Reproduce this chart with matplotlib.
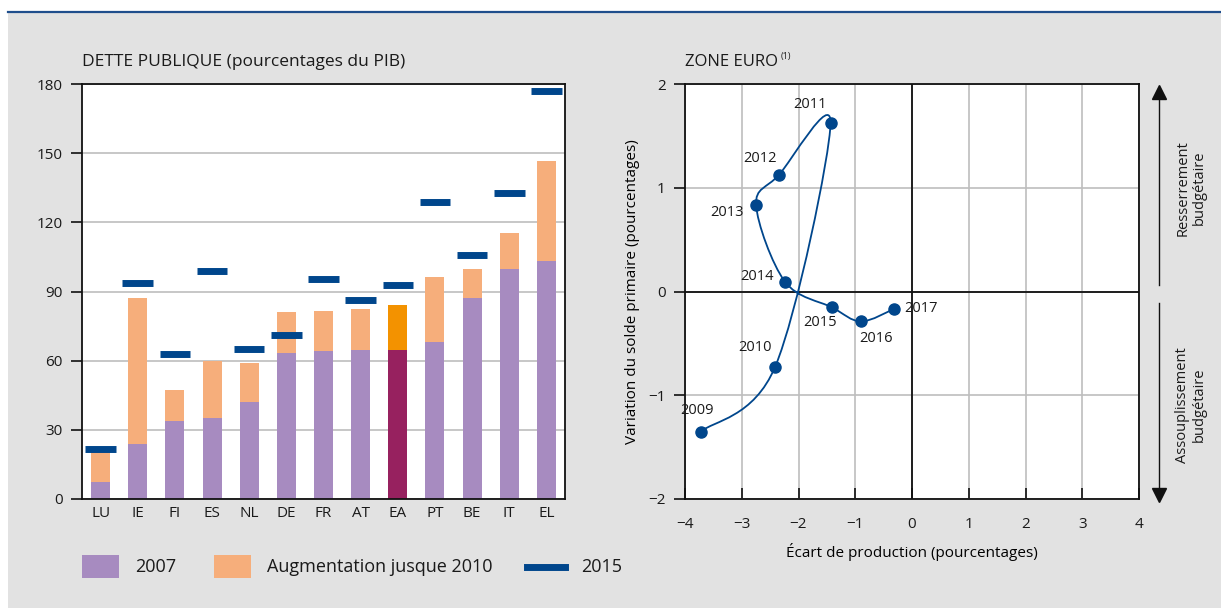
import matplotlib
matplotlib.use("Agg")
import matplotlib.pyplot as plt
from matplotlib.path import Path
from matplotlib.patches import PathPatch, Rectangle
from matplotlib.lines import Line2D
import numpy as np

# --- data -------------------------------------------------------------
countries = ["LU", "IE", "FI", "ES", "NL", "DE", "FR", "AT", "EA", "PT", "BE", "IT", "EL"]
debt_2007 = [7.5, 23.9, 33.9, 35.2, 42.1, 63.3, 64.2, 64.6, 64.6, 68.1, 87.1, 99.7, 103.1]
debt_2010 = [20.2, 87.1, 47.3, 59.9, 59.0, 81.1, 81.5, 82.4, 84.1, 96.2, 99.7, 115.2, 146.4]
debt_2015 = [21.5, 93.8, 63.0, 99.1, 65.1, 71.1, 95.6, 86.3, 93.0, 128.9, 106.0, 132.8, 177.0]

years = ["2009", "2010", "2011", "2012", "2013", "2014", "2015", "2016", "2017"]
output_gap = [-3.72, -2.41, -1.435, -2.347, -2.747, -2.241, -1.406, -0.90, -0.312]
primary_chg = [-1.35, -0.724, 1.622, 1.122, 0.833, 0.096, -0.154, -0.288, -0.167]
# label offsets (pixels) for the year annotations
label_off = [(-4, 21), (-20, 19), (-21, 19), (-19, 17), (-29, -7),
             (-28, 5), (-12, -15), (15, -17), (27, 0)]

PURPLE = "#A78BC0"
PEACH = "#F6AE7B"
EA_DARK = "#97215F"
EA_ORANGE = "#F39200"
BLUE = "#00468C"
BG = "#E2E2E2"
GRID = "#BEBEBE"
TXT = "#1A1A1A"

plt.rcParams.update({
    "font.family": ["Open Sans", "DejaVu Sans"],
    "font.size": 11,
    "text.color": TXT,
    "axes.edgecolor": "#111111",
    "axes.linewidth": 1.3,
    "xtick.color": "#111111",
    "ytick.color": "#111111",
    "xtick.labelcolor": TXT,
    "ytick.labelcolor": TXT,
})

W, H = 1221, 608
fig = plt.figure(figsize=(W / 100, H / 100), dpi=100, facecolor=BG)

# white frame strips and top rule
fig.patches.append(Rectangle((0, 1 - 11 / H), 1, 11 / H, transform=fig.transFigure,
                             facecolor="white", edgecolor="none", zorder=0))
fig.patches.append(Rectangle((0, 0), 8 / W, 1, transform=fig.transFigure,
                             facecolor="white", edgecolor="none", zorder=0))
fig.lines.append(Line2D([8 / W, 1], [1 - 12 / H, 1 - 12 / H], transform=fig.transFigure,
                        color="#1F4E8C", lw=1.6))


def ax_box(x0, x1, y0, y1):
    return [x0 / W, 1 - y1 / H, (x1 - x0) / W, (y1 - y0) / H]


# --- left: bars -------------------------------------------------------
ax1 = fig.add_axes(ax_box(82, 565, 84, 499))
x = np.arange(len(countries))
inc = [b - a for a, b in zip(debt_2007, debt_2010)]
base_cols = [EA_DARK if c == "EA" else PURPLE for c in countries]
top_cols = [EA_ORANGE if c == "EA" else PEACH for c in countries]
ax1.bar(x, debt_2007, width=0.51, color=base_cols, zorder=2)
ax1.bar(x, inc, bottom=debt_2007, width=0.51, color=top_cols, zorder=2)
ax1.hlines(debt_2015, x - 0.41, x + 0.41, color=BLUE, lw=5, zorder=3)

ax1.set_xlim(-0.5, len(countries) - 0.5)
ax1.set_ylim(0, 180)
ax1.set_yticks(range(0, 181, 30))
ax1.set_xticks(x)
ax1.set_xticklabels(countries)
ax1.yaxis.grid(True, color=GRID, lw=1.2)
ax1.set_axisbelow(True)
ax1.tick_params(axis="y", direction="out", length=8, width=1.2, pad=6, labelsize=11)
ax1.tick_params(axis="x", length=0, pad=5, labelsize=11)

fig.text(82 / W, 1 - 62 / H, "DETTE PUBLIQUE (pourcentages du PIB)", fontsize=12.5,
         ha="left", va="center")

# --- right: scatter path ----------------------------------------------
ax2 = fig.add_axes(ax_box(685, 1139, 84, 499))
ax2.set_xlim(-4, 4)
ax2.set_ylim(-2, 2)
ax2.set_xticks(range(-4, 5))
ax2.set_yticks(range(-2, 3))
ax2.set_xticklabels([str(v).replace("-", "\u2212") for v in range(-4, 5)])
ax2.set_yticklabels([str(v).replace("-", "\u2212") for v in range(-2, 3)])
ax2.grid(True, color=GRID, lw=1.2)
ax2.set_axisbelow(True)
ax2.axhline(0, color="#111111", lw=1.3, zorder=1)
ax2.axvline(0, color="#111111", lw=1.3, zorder=1)
ax2.tick_params(axis="y", direction="out", length=8, width=1.2, pad=6, labelsize=11)
ax2.tick_params(axis="x", direction="in", length=8, width=1.2, pad=13, labelsize=11)

# smooth connecting line (Catmull-Rom as cubic Bezier segments)
pts = np.column_stack([output_gap, primary_chg])
ext = np.vstack([pts[0], pts, pts[-1]])
verts = [tuple(pts[0])]
codes = [Path.MOVETO]
for i in range(len(pts) - 1):
    p0, p1, p2, p3 = ext[i], ext[i + 1], ext[i + 2], ext[i + 3]
    c1 = p1 + (p2 - p0) / 6
    c2 = p2 - (p3 - p1) / 6
    verts += [tuple(c1), tuple(c2), tuple(p2)]
    codes += [Path.CURVE4] * 3
ax2.add_patch(PathPatch(Path(verts, codes), facecolor="none", edgecolor=BLUE,
                        lw=1.3, zorder=3))
ax2.plot(output_gap, primary_chg, "o", color=BLUE, ms=8, zorder=4)

for xv, yv, yr, off in zip(output_gap, primary_chg, years, label_off):
    ax2.annotate(yr, (xv, yv), xytext=off, textcoords="offset pixels",
                 ha="center", va="center", fontsize=10.5, zorder=5)

ax2.set_xlabel("\u00c9cart de production (pourcentages)", fontsize=11, va="center")
ax2.xaxis.set_label_coords(0.5, (499 - 552) / 415)
ax2.set_ylabel("Variation du solde primaire (pourcentages)", fontsize=11, va="center")
ax2.yaxis.set_label_coords((632 - 685) / 454, 0.5)

fig.text(685 / W, 1 - 62 / H, "ZONE EURO", fontsize=12, ha="left", va="center")
fig.text(781 / W, 1 - 57 / H, "(1)", fontsize=6.5, ha="left", va="center")

# side arrows
ax_x = 1159 / W
fig.lines.append(Line2D([ax_x, ax_x], [1 - 285 / H, 1 - 95 / H], transform=fig.transFigure,
                        color="#111111", lw=1.0))
fig.lines.append(Line2D([ax_x], [1 - 92 / H], transform=fig.transFigure, marker="^",
                        ms=10, color="#111111", lw=0))
fig.lines.append(Line2D([ax_x, ax_x], [1 - 303 / H, 1 - 492 / H], transform=fig.transFigure,
                        color="#111111", lw=1.0))
fig.lines.append(Line2D([ax_x], [1 - 495 / H], transform=fig.transFigure, marker="v",
                        ms=10, color="#111111", lw=0))
fig.text(1191 / W, 1 - 188 / H, "Resserrement\nbudg\u00e9taire", rotation=90,
         ha="center", va="center", fontsize=10.5, linespacing=1.1)
fig.text(1191 / W, 1 - 405 / H, "Assouplissement\nbudg\u00e9taire", rotation=90,
         ha="center", va="center", fontsize=10.5, linespacing=1.1)

# --- legend -----------------------------------------------------------
ly = 1 - 567 / H
fig.patches.append(Rectangle((82 / W, 1 - 578 / H), 37 / W, 23 / H, transform=fig.transFigure,
                             facecolor=PURPLE, edgecolor="none"))
fig.text(135 / W, ly, "2007", fontsize=13, ha="left", va="center")
fig.patches.append(Rectangle((214 / W, 1 - 578 / H), 37 / W, 23 / H, transform=fig.transFigure,
                             facecolor=PEACH, edgecolor="none"))
fig.text(267 / W, ly, "Augmentation jusque 2010", fontsize=13, ha="left", va="center")
fig.lines.append(Line2D([527 / W, 565 / W], [ly, ly], transform=fig.transFigure,
                        color=BLUE, lw=5))
fig.text(581 / W, ly, "2015", fontsize=13, ha="left", va="center")

fig.savefig("out.png", dpi=100, facecolor=BG)
